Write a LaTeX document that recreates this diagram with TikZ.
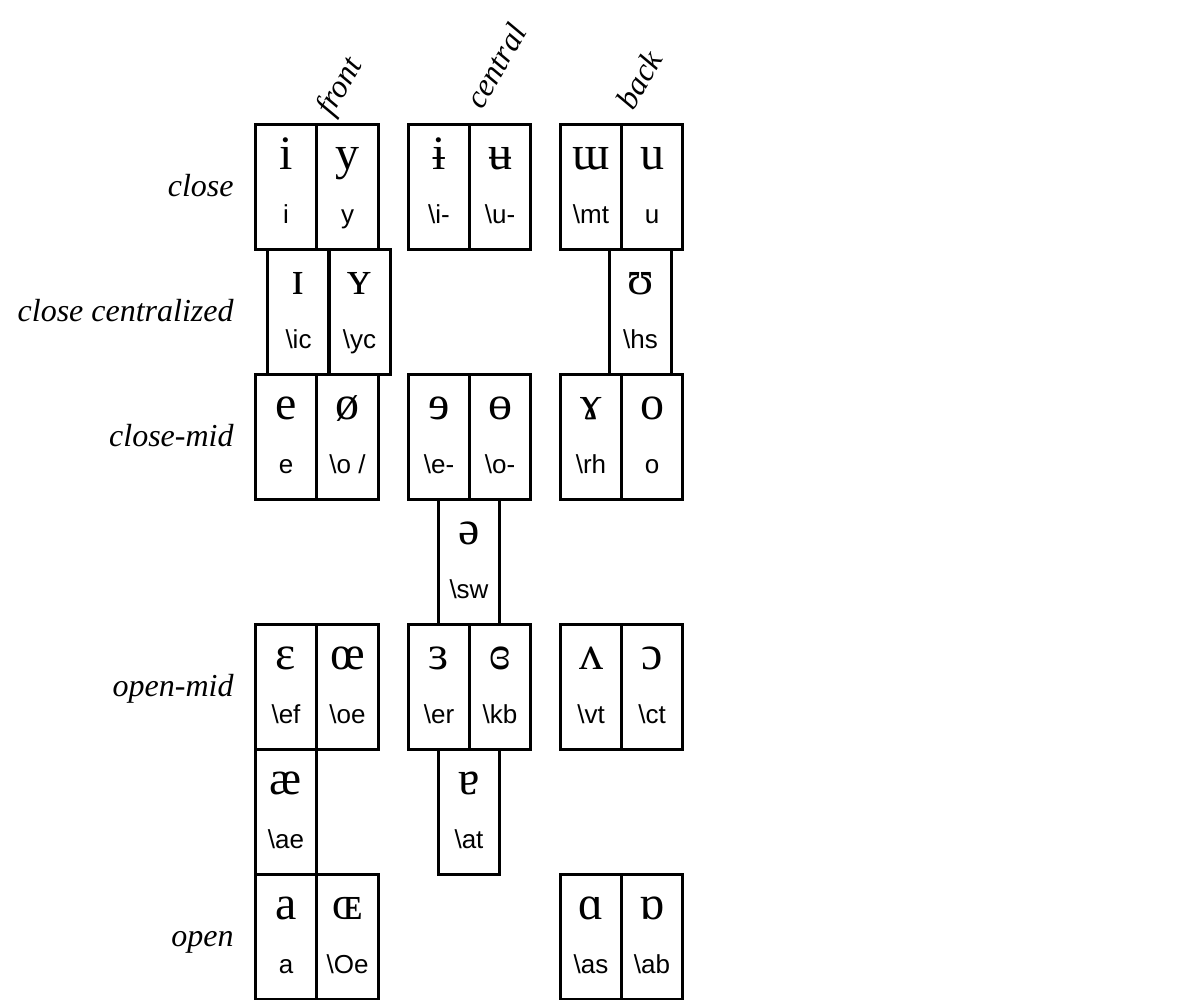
\documentclass[tikz,border=0pt]{standalone}
\usepackage{fontspec}
\setmainfont{Liberation Serif}
\newfontfamily\ipafont{Liberation Serif}
\newfontfamily\codefont{Liberation Sans}
\usetikzlibrary{positioning}

\tikzset{
  cell/.style={draw, line width=1.5pt, rectangle, minimum width=30.75pt,
    minimum height=62.5pt, inner sep=0pt, outer sep=0pt},
  sym/.style={font=\ipafont\fontsize{24}{24}\selectfont, anchor=base, inner sep=0pt},
  code/.style={font=\codefont\fontsize{13}{13}\selectfont, anchor=base, inner sep=0pt},
  height/.style={font=\itshape\fontsize{16}{16}\selectfont, anchor=base east, inner sep=0pt},
  backness/.style={font=\itshape\fontsize{16}{16}\selectfont, rotate=60,
    anchor=base west, inner sep=0pt}
}
% one cell: name, centre, IPA symbol, code
\newcommand{\vowel}[4]{%
  \node[cell] (#1) at (#2) {};
  \node[sym] (#1-s) at ([yshift=-22.5pt]#1.north) {#3};
  \node[code] (#1-c) at ([yshift=-49.5pt]#1.north) {#4};
}

\begin{document}
\begin{tikzpicture}[x=0.5pt,y=-0.5pt]
  \useasboundingbox (0,0) rectangle (1200,1000);
  % row labels
  \node[height] (close) at (234,196.5) {close};
  \node[height] (nearclose) at (234,321.5) {close centralized};
  \node[height] (closemid) at (234,446.5) {close-mid};
  \node[height] (openmid) at (234,696.5) {open-mid};
  \node[height] (open) at (234,946.5) {open};
  % column labels
  \node[backness] (front) at (332,118) {front};
  \node[backness] (central) at (482,111) {central};
  \node[backness] (back) at (633,112) {back};
  % front
  \vowel{i}{286,187}{i}{i}
  \vowel{y}{347.5,187}{y}{y}
  \vowel{ic}{298.5,312}{ɪ}{\textbackslash ic}
  \vowel{yc}{359.5,312}{ʏ}{\textbackslash yc}
  \vowel{e}{286,437}{e}{e}
  \vowel{os}{347.5,437}{ø}{\textbackslash o /}
  \vowel{ef}{286,687}{ɛ}{\textbackslash ef}
  \vowel{oe}{347.5,687}{œ}{\textbackslash oe}
  \vowel{ae}{286,812}{æ}{\textbackslash ae}
  \vowel{a}{286,937}{a}{a}
  \vowel{Oe}{347.5,937}{ɶ}{\textbackslash Oe}
  % central
  \vowel{ib}{439,187}{ɨ}{\textbackslash i-}
  \vowel{ub}{500,187}{ʉ}{\textbackslash u-}
  \vowel{eb}{439,437}{ɘ}{\textbackslash e-}
  \vowel{ob}{500,437}{ɵ}{\textbackslash o-}
  \vowel{sw}{469,562}{ə}{\textbackslash sw}
  \vowel{er}{439,687}{ɜ}{\textbackslash er}
  \vowel{kb}{500,687}{ɞ}{\textbackslash kb}
  \vowel{at}{469,812}{ɐ}{\textbackslash at}
  % back
  \vowel{mt}{591,187}{ɯ}{\textbackslash mt}
  \vowel{u}{652,187}{u}{u}
  \vowel{hs}{640.5,312}{ʊ}{\textbackslash hs}
  \vowel{rh}{591,437}{ɤ}{\textbackslash rh}
  \vowel{o}{652,437}{o}{o}
  \vowel{vt}{591,687}{ʌ}{\textbackslash vt}
  \vowel{ct}{652,687}{ɔ}{\textbackslash ct}
  \vowel{as}{591,937}{ɑ}{\textbackslash as}
  \vowel{ab}{652,937}{ɒ}{\textbackslash ab}
\end{tikzpicture}
\end{document}
